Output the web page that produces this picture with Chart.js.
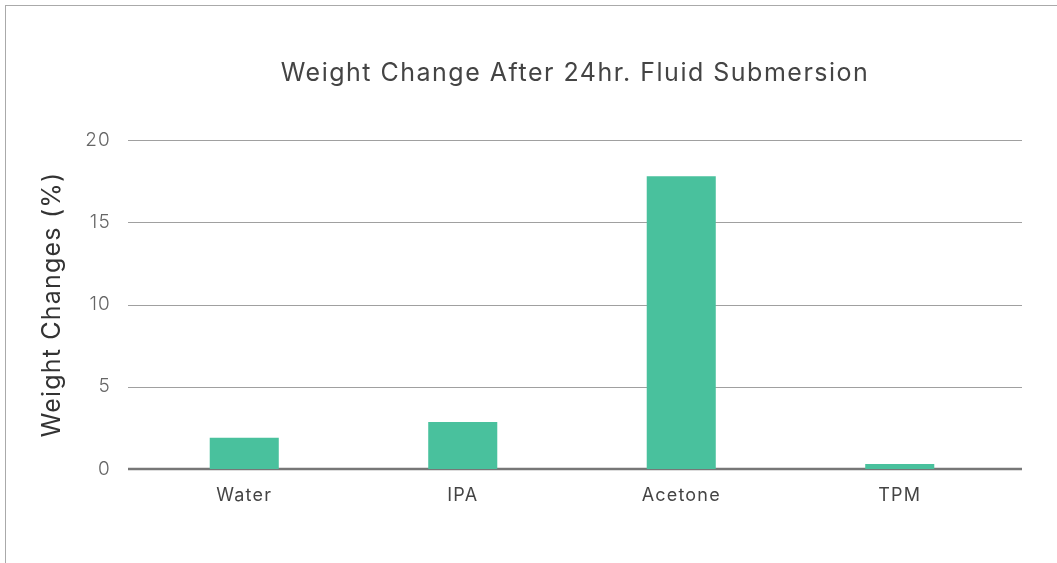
<!DOCTYPE html>
<html>
<head>
<meta charset="utf-8">
<script src="https://cdn.jsdelivr.net/npm/chart.js@4.4.0/dist/chart.umd.min.js"></script>
<style>
  html, body { margin: 0; padding: 0; background: #fff; }
  #wrap { position: relative; width: 1057px; height: 563px; overflow: hidden; }
  #frame { position: absolute; left: 5px; top: 5px; width: 1200px; height: 700px; border: 1px solid #aaa; box-sizing: border-box; }
  canvas { position: absolute; left: 0; top: 0; }
</style>
</head>
<body>
<div id="wrap">
  <div id="frame"></div>
  <canvas id="c" width="1057" height="563"></canvas>
</div>
<script>
const chartTitle = "Weight Change After 24hr. Fluid Submersion";
const yAxisTitle = "Weight Changes (%)";
const categories = ["Water", "IPA", "Acetone", "TPM"];
const weightChange = [1.9, 2.85, 17.8, 0.3];
const yTicks = [0, 5, 10, 15, 20];

const FONT = 'Inter, sans-serif';

const decorPlugin = {
  id: 'decor',
  beforeDraw(chart) {
    chart.ctx.letterSpacing = '1.2px';
  },
  beforeDatasetsDraw(chart) {
    const { ctx, chartArea, scales } = chart;
    const y = scales.y;
    ctx.save();
    for (const t of y.ticks) {
      const py = Math.round(y.getPixelForValue(t.value));
      const zero = t.value === 0;
      ctx.strokeStyle = zero ? '#777' : '#a0a0a0';
      ctx.lineWidth = zero ? 2.5 : 1;
      ctx.beginPath();
      ctx.moveTo(chartArea.left - 7, zero ? py : py + 0.5);
      ctx.lineTo(chartArea.right + 13, zero ? py : py + 0.5);
      ctx.stroke();
    }
    ctx.restore();
  },
  afterDraw(chart) {
    const { ctx, chartArea } = chart;
    ctx.save();
    ctx.letterSpacing = '1.5px';
    ctx.font = '400 25px ' + FONT;
    ctx.fillStyle = '#444';
    ctx.textAlign = 'center';
    ctx.textBaseline = 'middle';
    ctx.fillText(chartTitle, (chartArea.left - 7 + chartArea.right + 13) / 2, 73);
    ctx.restore();
  }
};

new Chart(document.getElementById('c'), {
  type: 'bar',
  data: {
    labels: categories,
    datasets: [{
      data: weightChange,
      backgroundColor: '#49C19D',
      borderWidth: 0,
      barPercentage: 0.316,
      categoryPercentage: 1
    }]
  },
  options: {
    responsive: false,
    animation: false,
    layout: { padding: { top: 140, right: 48, left: 0, bottom: 0 } },
    plugins: { legend: { display: false }, title: { display: false }, tooltip: { enabled: false } },
    scales: {
      x: {
        grid: { display: false, drawTicks: false },
        border: { display: false },
        ticks: { color: '#444', font: { family: FONT, size: 18 }, padding: 16 },
        afterFit(s) { s.height = 94; }
      },
      y: {
        min: 0, max: 20,
        afterBuildTicks(s) { s.ticks = yTicks.map(v => ({ value: v })); },
        grid: { display: false, drawTicks: false },
        border: { display: false },
        ticks: { color: '#666', font: { family: FONT, size: 19, weight: '300' }, padding: 24 },
        title: { display: true, text: yAxisTitle, color: '#333', font: { family: FONT, size: 25 }, padding: { top: 37, bottom: 0 } },
        afterFit(s) { s.width = 135; }
      }
    }
  },
  plugins: [decorPlugin]
});
</script>
</body>
</html>
